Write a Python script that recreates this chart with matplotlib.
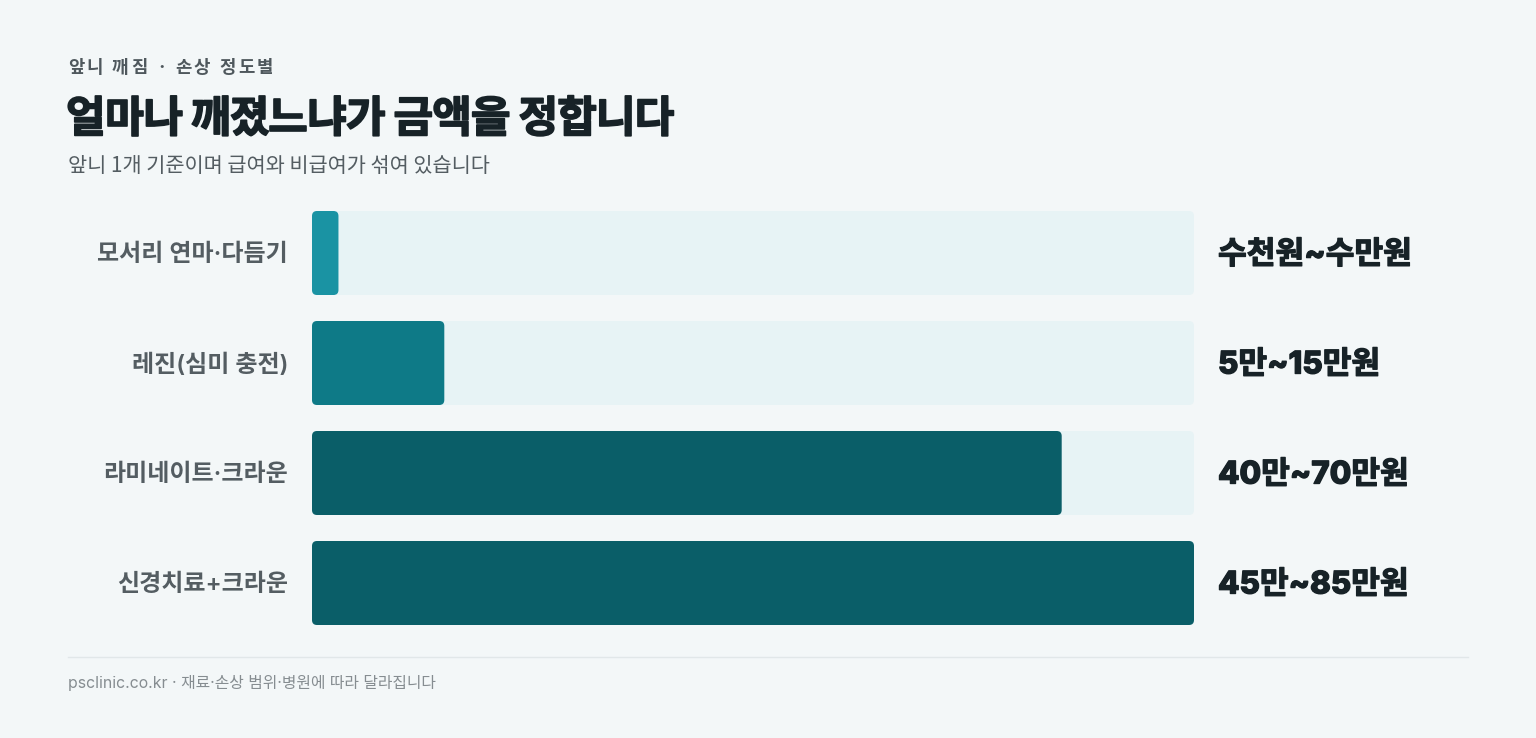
import matplotlib as mpl
mpl.use('Agg')
import matplotlib.pyplot as plt
from matplotlib.patches import FancyBboxPatch
import matplotlib.patheffects as pe

plt.rcParams['font.family'] = ['Noto Sans CJK KR', 'DejaVu Sans']

# data
categories = ['모서리 연마·다듬기', '레진(심미 충전)', '라미네이트·크라운', '신경치료+크라운']
scores = [3, 15, 85, 100]   # relative bar length (0-100)
price_labels = ['수천원~수만원', '5만~15만원', '40만~70만원', '45만~85만원']
bar_colors = ['#1a93a3', '#0e7a87', '#0a5e68', '#0a5e68']

kicker = '앞니 깨짐 · 손상 정도별'
title = '얼마나 깨졌느냐가 금액을 정합니다'
subtitle = '앞니 1개 기준이며 급여와 비급여가 섞여 있습니다'
footer = 'psclinic.co.kr · 재료·손상 범위·병원에 따라 달라집니다'

W, H = 1536, 738
bg = '#f3f7f8'
track = '#e7f3f5'
ink = '#172227'
latin_kr = ['Inter', 'Noto Sans CJK KR']

fig = plt.figure(figsize=(W / 100, H / 100), dpi=100)
fig.patch.set_facecolor(bg)
renderer = fig.canvas.get_renderer()

# bar area in pixels: x 312..1194, rows every 110 px starting at 198
ax_l, ax_r, ax_t, ax_b = 312, 1194, 198, 638
ax = fig.add_axes([ax_l / W, 1 - ax_b / H, (ax_r - ax_l) / W, (ax_b - ax_t) / H])
ax.set_facecolor('none')
ax.set_xlim(0, 100)
ax.set_ylim(len(categories) - 0.5, -0.5)
ax.axis('off')

bar_h = 84 / 110
x_per_px = 100 / (ax_r - ax_l)
y_per_px = 1 / 110
r = 5 * x_per_px
aspect = y_per_px / x_per_px

def rounded(x0, y0, w, h, color):
    p = FancyBboxPatch((x0, y0), w, h,
                       boxstyle=f'round,pad=0,rounding_size={r}',
                       mutation_aspect=aspect, fc=color, ec='none')
    ax.add_patch(p)

heavy = [pe.withStroke(linewidth=0.9, foreground=ink)]
dy = 2 * y_per_px  # nudge labels down a touch

for i, (cat, val, lab, col) in enumerate(zip(categories, scores, price_labels, bar_colors)):
    y0 = i - bar_h / 2
    rounded(0, y0, 100, bar_h, track)
    rounded(0, y0, val, bar_h, col)
    ax.text(-24 * x_per_px, i + dy, cat, ha='right', va='center', fontsize=17.3,
            color='#545d62', fontweight='semibold', family=latin_kr)
    ax.text(100 + 24 * x_per_px, i + dy, lab, ha='left', va='center', fontsize=22.5,
            color=ink, fontweight='heavy', family=latin_kr, path_effects=heavy)

def spaced(x, y, s, gap, **kw):
    # draw text char by char with extra letter spacing (pixels)
    for ch in s:
        t = fig.text(x / W, 1 - y / H, ch, ha='left', va='center', **kw)
        x += t.get_window_extent(renderer).width + gap

spaced(68, 68, kicker, 2.4, fontsize=12.8, color='#4f585d', fontweight='bold')
spaced(66, 119, title, -0.9, fontsize=31, color=ink, fontweight='black',
       path_effects=[pe.withStroke(linewidth=1.2, foreground=ink)])
fig.text(68 / W, 1 - 166 / H, subtitle, ha='left', va='center', fontsize=15,
         color='#545d62')

# footer
fig.add_artist(plt.Line2D([68 / W, 1468 / W], [1 - 657 / H, 1 - 657 / H],
                          color='#e1e7e9', lw=1))
fig.text(68 / W, 1 - 683 / H, footer, ha='left', va='center', fontsize=11.4,
         color='#868d91', family=latin_kr)

fig.savefig('out.png', dpi=100, facecolor=bg)
